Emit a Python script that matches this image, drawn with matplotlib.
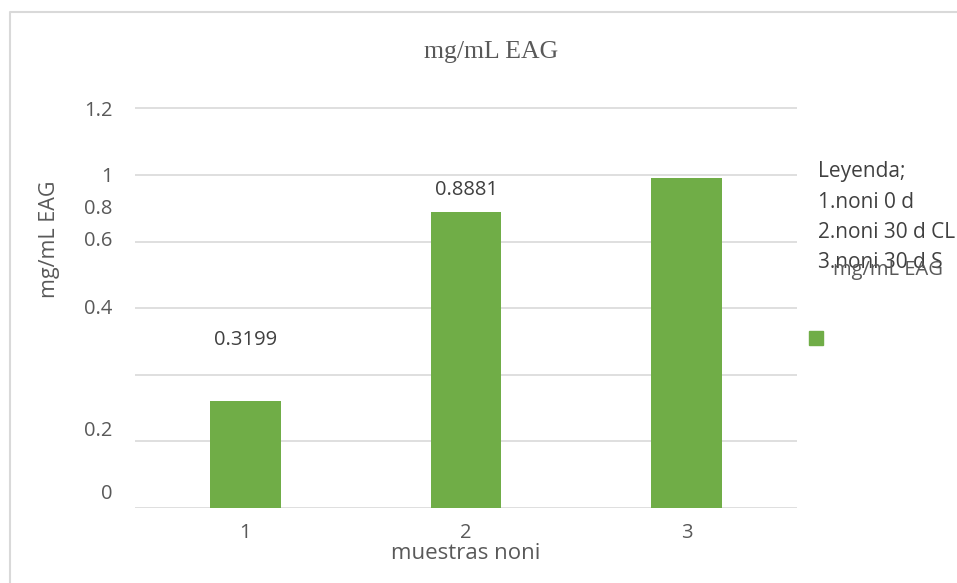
import matplotlib.pyplot as plt
from matplotlib.patches import Rectangle
from matplotlib.lines import Line2D
import numpy as np

# ---- data ----
muestras = ["1", "2", "3"]
eag = [0.3199, 0.8881, 0.99]
etiquetas = ["0.3199", "0.8881"]
etiqueta_y = [0.505, 0.955]

grid_y = [0, 0.2, 0.4, 0.6, 0.8, 1.0, 1.2]
ytick_pos = [0.05, 0.24, 0.605, 0.81, 0.905, 1.0, 1.2]
ytick_lab = ["0", "0.2", "0.4", "0.6", "0.8", "1", "1.2"]

leyenda = ["Leyenda;", "1.noni 0 d", "2.noni 30 d CL", "3.noni 30 d S"]

verde = "#70AD47"
gris = "#595959"
oscuro = "#404040"
sans = ["Open Sans", "DejaVu Sans"]

fig = plt.figure(figsize=(9.57, 5.83), dpi=100)
ax = fig.add_axes([135 / 957, 75 / 583, 662 / 957, 401.3 / 583])

x = np.arange(len(muestras))
ax.bar(x, eag, width=0.32, color=verde, zorder=3)

ax.set_xlim(-0.5, len(muestras) - 0.5)
ax.set_ylim(0, 1.205)

# lineas de cuadricula en ticks menores, etiquetas en ticks mayores
ax.yaxis.remove_overlapping_locs = False
ax.set_yticks(grid_y, minor=True)
ax.set_yticks(ytick_pos, ytick_lab)
ax.grid(axis="y", which="minor", color="#D9D9D9", linewidth=1.2, zorder=0)
ax.tick_params(axis="y", which="both", length=0, pad=16, labelsize=14.5,
               labelcolor=gris)
ax.set_xticks(x, muestras)
ax.tick_params(axis="x", length=0, pad=11, labelsize=14.5, labelcolor=gris)
for lab in ax.get_xticklabels() + ax.get_yticklabels():
    lab.set_family(sans)
for s in ax.spines.values():
    s.set_visible(False)

ax.set_xlabel("muestras noni", fontsize=16, color=gris, family=sans, labelpad=0)
ax.set_ylabel("mg/mL EAG", fontsize=15.5, color=gris, family=sans)
ax.yaxis.set_label_coords(-0.113, 0.67)

for xi, txt, yy in zip(x, etiquetas, etiqueta_y):
    ax.text(xi, yy, txt, ha="center", va="center", fontsize=14.5,
            color=oscuro, family=sans)

fig.text(0.513, 0.91, "mg/mL EAG", ha="center", va="center",
         fontsize=18.5, color=gris, family=["Liberation Serif", "DejaVu Serif"])

# leyenda manual a la derecha
for i, t in enumerate(leyenda):
    fig.text(818 / 957, 1 - (172 + 30 * i) / 583, t, ha="left", va="center",
             fontsize=15, color=oscuro, family=sans)
fig.text(888 / 957, 1 - 270 / 583, "mg/mL EAG", ha="center", va="center",
         fontsize=14.5, color=gris, family=sans)
fig.add_artist(Rectangle((809 / 957, 1 - 345 / 583), 14 / 957, 14 / 583,
                         transform=fig.transFigure, color=verde))

# marco del grafico
fig.add_artist(Line2D([10 / 957, 10 / 957, 1], [0, 1 - 12 / 583, 1 - 12 / 583],
                      transform=fig.transFigure, color="#D9D9D9", linewidth=1.5))

fig.savefig("out.png", dpi=100)
